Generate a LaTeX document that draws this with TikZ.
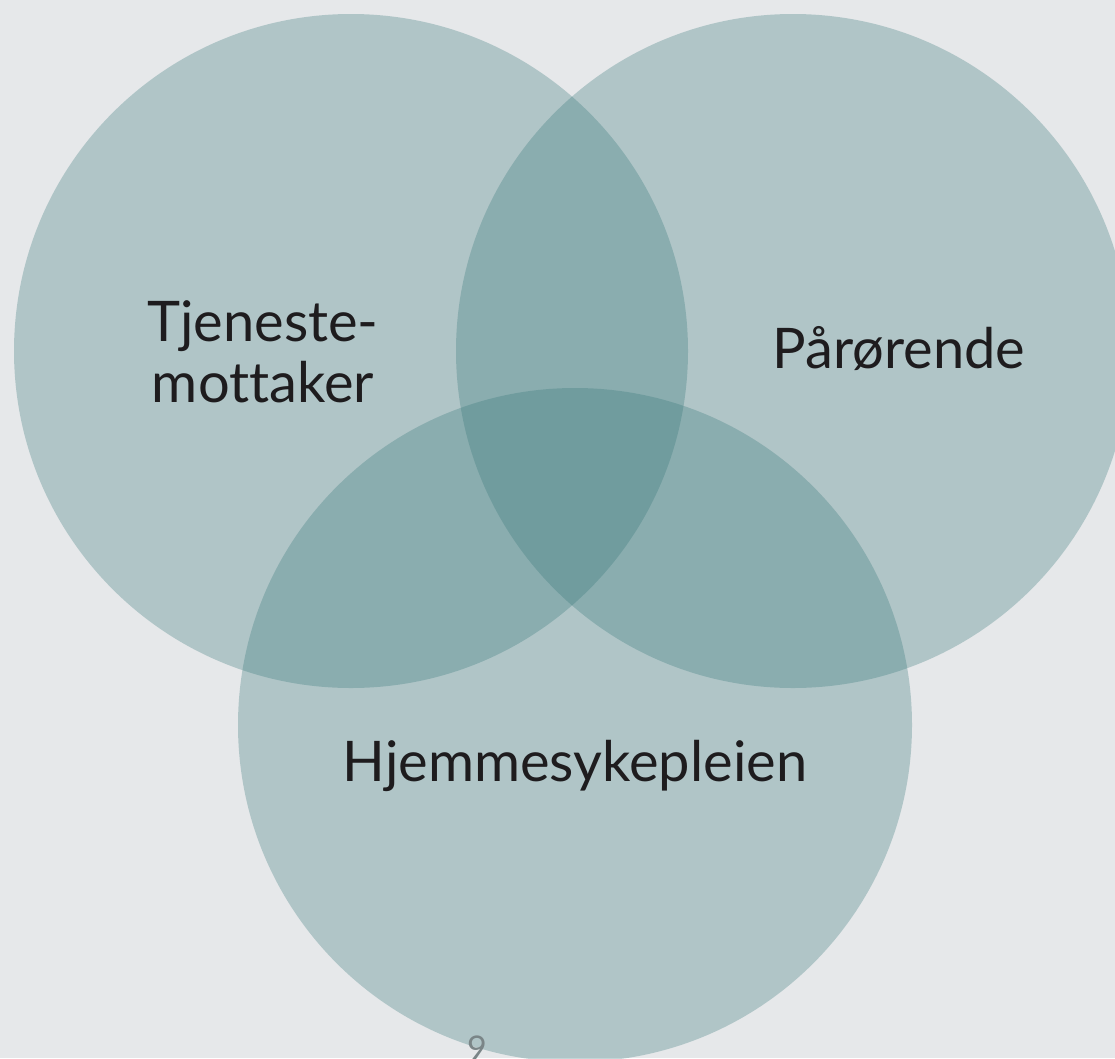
\documentclass[tikz,border=0pt]{standalone}
\usepackage{fontspec}
\setmainfont[Ligatures=NoCommon]{Lato}
\definecolor{bgc}{RGB}{230,232,234}
\definecolor{venn}{RGB}{53,119,121}
\definecolor{txt}{RGB}{30,28,30}
\definecolor{pg}{RGB}{122,133,135}
\tikzset{
  vcircle/.style={fill=venn, fill opacity=0.3, draw=none},
  lbl/.style={text=txt, font=\fontsize{56}{61}\selectfont, align=center, inner sep=0pt}
}
\begin{document}
\begin{tikzpicture}[x=1pt,y=-1pt]
\fill[bgc] (0,0) rectangle (1115,1058);
\useasboundingbox (0,0) rectangle (1115,1058);
\begin{scope}
\clip (0,0) rectangle (1115,1058);
\fill[vcircle] (351,351) circle (337);
\fill[vcircle] (793,351) circle (337);
\fill[vcircle] (575,725) circle (337);
\end{scope}
\node[text=pg, font=\fontsize{34}{34}\selectfont, inner sep=0pt] (pnum) at (477,1048) {9};
\node[lbl] (tj) at (263,352) {Tjeneste-\\mottaker};
\node[lbl] (pa) at (899,349) {Pårørende};
\node[lbl] (hj) at (575,766) {Hjemmesykepleien};
\end{tikzpicture}
\end{document}
